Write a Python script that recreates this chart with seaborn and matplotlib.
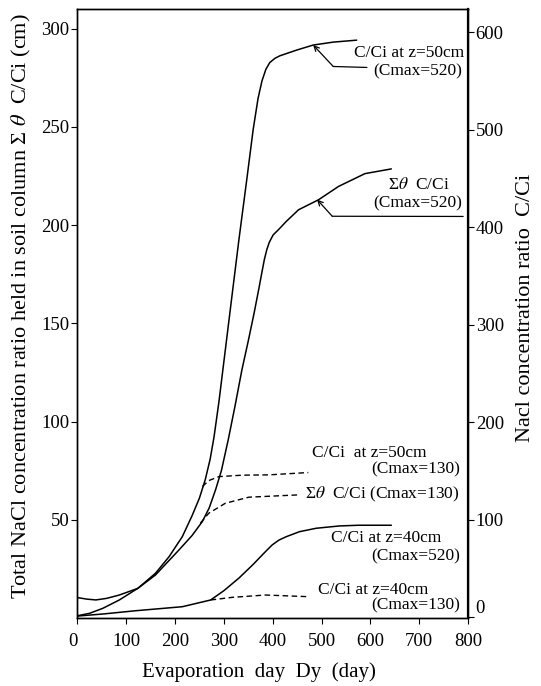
import matplotlib
matplotlib.use("Agg")
import matplotlib.pyplot as plt
import seaborn as sns

# Left axis: total NaCl held in soil column, sum(theta C/Ci) in cm
sum_days_520 = [0, 20, 38, 60, 86, 124, 160, 208, 235, 256, 270, 283, 295, 309, 323, 337,
                350, 362, 372, 378, 383, 388, 393, 401, 412, 428, 453, 494, 535, 589, 643]
sum_vals_520 = [10.4, 9.6, 9.2, 10.0, 11.7, 15.1, 21.9, 34.6, 42.0, 49.1, 56.0, 65.2, 75.0,
                90.7, 108.0, 126.3, 141.0, 155.2, 168.0, 176.0, 182.5, 187.5, 191.2, 195.0,
                197.7, 201.9, 207.8, 212.9, 219.7, 226.2, 228.6]
sum_days_130 = [252, 269, 303, 351, 455]
sum_vals_130 = [48.3, 53.3, 58.4, 61.5, 62.7]

# Right axis: NaCl concentration ratio C/Ci
z50_days_520 = [0, 25, 52, 86, 124, 160, 188, 215, 235, 250, 262, 272, 280, 290, 305, 318,
                331, 347, 360, 370, 378, 386, 394, 405, 415, 449, 483, 524, 572]
z50_vals_520 = [1.3, 3.8, 8.9, 17.5, 29.5, 44.9, 62.0, 82.5, 104.0, 122.0, 141.0, 162.0,
                185.0, 221.0, 282.0, 335.0, 387.6, 449.0, 500.0, 532.0, 550.0, 562.0, 569.0,
                573.5, 576.0, 581.8, 587.0, 590.0, 592.0]
z50_days_130 = [256, 269, 290, 338, 392, 473]
z50_vals_130 = [133.9, 140.0, 144.1, 145.6, 145.9, 148.3]

z40_days_520 = [0, 52, 120, 215, 273, 300, 331, 360, 385, 399, 413, 428, 455, 489, 537, 576, 643]
z40_vals_520 = [1.0, 3.1, 6.5, 10.6, 17.5, 27.0, 40.0, 54.0, 67.0, 74.0, 79.0, 82.5, 87.6,
                91.1, 93.5, 94.2, 94.2]
z40_days_130 = [273, 317, 385, 473]
z40_vals_130 = [17.5, 20.2, 22.6, 20.9]

x_ticks = [0, 100, 200, 300, 400, 500, 600, 700, 800]
left_ticks = [50, 100, 150, 200, 250, 300]
right_ticks = [0, 100, 200, 300, 400, 500, 600]

sns.set_theme(style="ticks", rc={"axes.edgecolor": "black", "xtick.color": "black",
                                 "ytick.color": "black", "text.color": "black",
                                 "axes.labelcolor": "black"})
plt.rcParams["font.family"] = ["Liberation Serif", "DejaVu Serif"]
plt.rcParams["mathtext.fontset"] = "stix"

fig = plt.figure(figsize=(5.41, 6.86), dpi=100)
ax = fig.add_axes([0.1429, 0.0991, 0.7222, 0.8878])
ax2 = ax.twinx()

solid = dict(color="black", linewidth=1.1, sort=False, estimator=None)
dashed = dict(color="black", linewidth=1.0, sort=False, estimator=None,
              linestyle=(0, (4, 2.5)))

sns.lineplot(x=sum_days_520, y=sum_vals_520, ax=ax, **solid)
sns.lineplot(x=sum_days_130, y=sum_vals_130, ax=ax, **dashed)
sns.lineplot(x=z50_days_520, y=z50_vals_520, ax=ax2, **solid)
sns.lineplot(x=z50_days_130, y=z50_vals_130, ax=ax2, **dashed)
sns.lineplot(x=z40_days_520, y=z40_vals_520, ax=ax2, **solid)
sns.lineplot(x=z40_days_130, y=z40_vals_130, ax=ax2, **dashed)

ax.set_xlim(0, 800)
ax.set_ylim(0, 310)
ax2.set_ylim(-1, 624)
ax.set_xticks(x_ticks)
ax.set_yticks(left_ticks)
ax2.set_yticks(right_ticks)
ax.tick_params(axis="x", direction="out", length=4, width=0.8, labelsize=13.5, pad=7)
ax.tick_params(axis="y", direction="out", length=4, width=0.8, labelsize=13.5, pad=1.5)
ax2.tick_params(axis="y", direction="out", length=4, width=0.8, labelsize=13.5, pad=1.5)
ax.get_xticklabels()[0].set_horizontalalignment("right")
ax2.get_yticklabels()[0].set_verticalalignment("bottom")

for sp in ax.spines.values():
    sp.set_linewidth(1.0)
for sp in ax2.spines.values():
    sp.set_linewidth(1.0)
ax2.spines["right"].set_linewidth(1.6)

ax.set_xlabel("Evaporation  day  Dy  (day)", fontsize=15)
ax.xaxis.set_label_coords(0.464, -0.073)
ax.set_ylabel("Total NaCl concentration ratio held in soil column \u03a3 $\\theta$  C/Ci (cm)",
              fontsize=16)
ax.yaxis.set_label_coords(-0.113, 0.512)
ax2.set_ylabel("Nacl concentration ratio  C/Ci", fontsize=16)
ax2.yaxis.set_label_coords(1.123, 0.509)

# curve labels (left-axis data coordinates)
fs = 12.5
ax.text(793, 287.8, "C/Ci at z=50cm", ha="right", va="center", fontsize=fs)
ax.text(787, 278.1, "(Cmax=520)", ha="right", va="center", fontsize=fs)
ax.text(763, 220.2, "\u03a3$\\theta$  C/Ci", ha="right", va="center", fontsize=fs)
ax.text(787, 210.9, "(Cmax=520)", ha="right", va="center", fontsize=fs)
ax.text(715, 84.1, "C/Ci  at z=50cm", ha="right", va="center", fontsize=fs)
ax.text(783, 75.4, "(Cmax=130)", ha="right", va="center", fontsize=fs)
ax.text(783, 62.7, "\u03a3$\\theta$  C/Ci (Cmax=130)", ha="right", va="center", fontsize=fs)
ax.text(746, 40.8, "C/Ci at z=40cm", ha="right", va="center", fontsize=fs)
ax.text(783, 31.2, "(Cmax=520)", ha="right", va="center", fontsize=fs)
ax.text(718, 14.3, "C/Ci at z=40cm", ha="right", va="center", fontsize=fs)
ax.text(783, 6.3, "(Cmax=130)", ha="right", va="center", fontsize=fs)

# leader arrows
arrow = dict(arrowstyle="->", lw=0.9, color="black", shrinkA=0, shrinkB=0, mutation_scale=9)
ax2.annotate("", xy=(483, 587), xytext=(524, 565), arrowprops=arrow)
ax2.plot([524, 593], [565, 564], color="black", lw=0.9)
ax.annotate("", xy=(491, 213), xytext=(522, 204.5), arrowprops=arrow)
ax.plot([522, 790], [204.5, 204.4], color="black", lw=0.9)

fig.savefig("out.png", dpi=100)
